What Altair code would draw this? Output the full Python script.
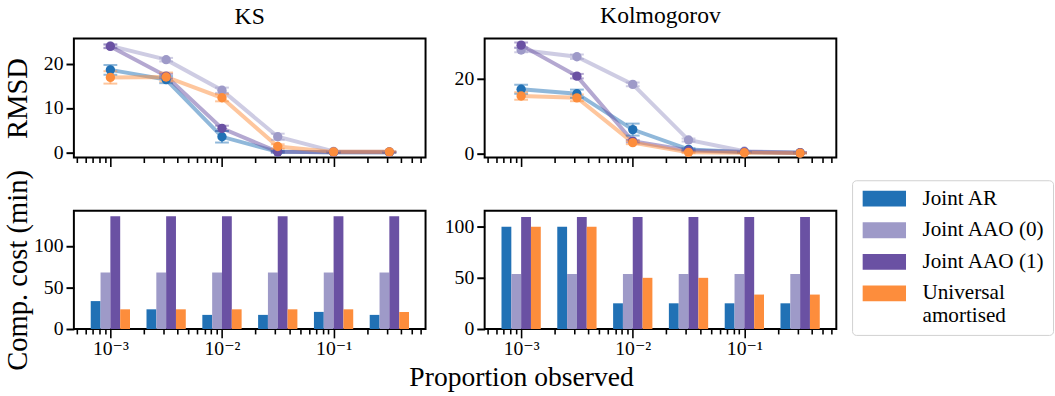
import altair as alt
import pandas as pd

# ---------------- data ----------------
methods = ["Joint AR", "Joint AAO (0)", "Joint AAO (1)", "Universal amortised"]
colors = ["#2171b5", "#9e9ac8", "#6a51a3", "#fd8d3c"]
proportions = [0.001, 0.00316, 0.01, 0.0316, 0.1, 0.316]

# RMSD (KS)
ks_ar = [18.6, 16.4, 3.5, 0.1, 0.0, 0.0]
ks_aao0 = [24.0, 20.9, 14.0, 3.5, 0.2, 0.1]
ks_aao1 = [23.9, 17.2, 5.4, 0.1, 0.0, 0.0]
ks_ua = [16.9, 17.0, 12.3, 1.3, 0.1, 0.1]
ks_ar_err = [1.1, 0.8, 1.3, 0.2, 0.1, 0.1]
ks_aao0_err = [0.4, 0.4, 0.6, 0.7, 0.1, 0.1]
ks_aao1_err = [0.4, 0.5, 0.6, 0.1, 0.1, 0.1]
ks_ua_err = [1.4, 1.0, 0.8, 0.5, 0.1, 0.1]

# RMSD (Kolmogorov)
kol_ar = [17.2, 16.0, 6.4, 1.1, 0.4, 0.2]
kol_aao0 = [27.7, 25.9, 18.5, 3.6, 0.6, 0.2]
kol_aao1 = [29.0, 20.7, 3.3, 0.8, 0.4, 0.2]
kol_ua = [15.4, 14.9, 2.9, 0.3, 0.2, 0.1]
kol_ar_err = [1.2, 1.1, 1.6, 0.3, 0.1, 0.1]
kol_aao0_err = [0.6, 0.6, 0.5, 0.4, 0.1, 0.1]
kol_aao1_err = [0.7, 0.6, 0.3, 0.2, 0.1, 0.1]
kol_ua_err = [1.0, 0.9, 0.4, 0.2, 0.1, 0.1]

# Computational cost (min)
ks_cost_ar = [33.6, 23.7, 17.0, 17.0, 20.6, 17.0]
ks_cost_aao0 = [68, 68, 68, 68, 68, 68]
ks_cost_aao1 = [135.6, 135.6, 135.6, 135.6, 135.6, 135.6]
ks_cost_ua = [23.7, 23.7, 23.7, 23.7, 23.7, 20.5]
kol_cost_ar = [99.5, 99.5, 25, 25, 25, 25]
kol_cost_aao0 = [53.5, 53.5, 53.5, 53.5, 53.5, 53.5]
kol_cost_aao1 = [109, 109, 109, 109, 109, 109]
kol_cost_ua = [99.5, 99.5, 49.8, 49.8, 33.5, 33.5]

# ---------------- tables ----------------
def rmsd_table(series, errs):
    rows = []
    for k, (m, vals, es) in enumerate(zip(methods, series, errs)):
        for p, v, e in zip(proportions, vals, es):
            rows.append({"method": m, "idx": k, "p": p, "rmsd": v,
                         "lo": v - e, "hi": v + e})
    return pd.DataFrame(rows)


def cost_table(series):
    rows = []
    for k, (m, vals) in enumerate(zip(methods, series)):
        for p, v in zip(proportions, vals):
            rows.append({"method": m, "idx": k, "p": p, "cost": v, "base": 0})
    return pd.DataFrame(rows)


ks_r = rmsd_table([ks_ar, ks_aao0, ks_aao1, ks_ua],
                  [ks_ar_err, ks_aao0_err, ks_aao1_err, ks_ua_err])
kol_r = rmsd_table([kol_ar, kol_aao0, kol_aao1, kol_ua],
                   [kol_ar_err, kol_aao0_err, kol_aao1_err, kol_ua_err])
ks_c = cost_table([ks_cost_ar, ks_cost_aao0, ks_cost_aao1, ks_cost_ua])
kol_c = cost_table([kol_cost_ar, kol_cost_aao0, kol_cost_aao1, kol_cost_ua])

# ---------------- styling ----------------
FONT = "Liberation Serif, Times New Roman, DejaVu Serif, serif"
W = 357
H_TOP = 121
H_BOT = 120
BAR_W = 0.088  # bar width in decades
X_DOMAIN = [10 ** -3.327, 10 ** -0.176]

tick_vals = [m * 10.0 ** e for e in range(-4, 0) for m in range(1, 10)]
tick_vals = [t for t in tick_vals if X_DOMAIN[0] <= t <= X_DOMAIN[1]]

L10 = "(log(datum.value)/LN10)"
MAJOR = f"abs({L10} - round({L10})) < 1e-6"
LABEL_EXPR = (f"abs({L10}+3)<1e-6 ? '10⁻³' : abs({L10}+2)<1e-6 ? '10⁻²' : "
              f"abs({L10}+1)<1e-6 ? '10⁻¹' : ''")

xscale = alt.Scale(type="log", domain=X_DOMAIN, nice=False)
cscale = alt.Scale(domain=methods, range=colors)
TICK_SIZE = {"condition": {"test": MAJOR, "value": 9}, "value": 5}


def x_axis(labels, title=None):
    kw = dict(values=tick_vals, grid=False, domain=False,
              tickSize=TICK_SIZE, tickWidth=1.6, tickColor="black")
    if labels:
        kw.update(labelExpr=LABEL_EXPR, labelFont=FONT, labelFontSize=20,
                  labelPadding=1, labelColor="black", labelFlush=False)
    else:
        kw.update(labels=False)
    if title:
        kw.update(title=title, titleFont=FONT, titleFontSize=28,
                  titleFontWeight="normal", titleColor="black",
                  titleX=454, titleY=57, titleBaseline="alphabetic",
                  titleAlign="center")
    else:
        kw.update(title=None)
    return alt.Axis(**kw)


def y_axis(title, values):
    kw = dict(values=values, grid=False, domain=False, tickSize=8, tickWidth=2,
              tickColor="black", labelFont=FONT, labelFontSize=20,
              labelColor="black", labelPadding=3)
    if title:
        kw.update(title=title, titleFont=FONT, titleFontSize=29,
                  titleFontWeight="normal", titleColor="black",
                  titleX=-48, titleBaseline="alphabetic")
    else:
        kw.update(title=None)
    return alt.Axis(**kw)


def rmsd_chart(df, name, ydom, yvals, ytitle):
    base = alt.Chart(df)
    x = alt.X("p:Q", scale=xscale, axis=x_axis(False))
    y = alt.Y("rmsd:Q", scale=alt.Scale(domain=ydom, nice=False, zero=False),
              axis=y_axis(ytitle, yvals))
    col = alt.Color("method:N", scale=cscale, legend=None)
    line = base.mark_line(strokeWidth=4, opacity=0.5).encode(
        x=x, y=y, color=col, order="p:Q")
    rule = base.mark_rule(strokeWidth=2, opacity=0.5).encode(
        x="p:Q", y="lo:Q", y2="hi:Q", color=col)
    cap_lo = base.mark_tick(orient="horizontal", size=14, thickness=2,
                            opacity=0.5).encode(x="p:Q", y="lo:Q", color=col)
    cap_hi = base.mark_tick(orient="horizontal", size=14, thickness=2,
                            opacity=0.5).encode(x="p:Q", y="hi:Q", color=col)
    pts = base.mark_circle(size=90, opacity=1).encode(x="p:Q", y="rmsd:Q",
                                                      color=col)
    return alt.layer(line, rule, cap_lo, cap_hi, pts).properties(
        width=W, height=H_TOP,
        title=alt.TitleParams(name, font=FONT, fontSize=24,
                              fontWeight="normal", color="black", offset=9))


def cost_chart(df, ydom, yvals, ytitle, legend, xtitle=None):
    if legend:
        leg = alt.Legend(orient="none", legendX=373, legendY=-31, title=None,
                         symbolType="M-2.75,-1H2.75V1H-2.75Z", symbolSize=256,
                         symbolOffset=14,
                         symbolStrokeWidth=0, symbolOpacity=1,
                         labelFont=FONT, labelFontSize=21.5, labelColor="black",
                         labelLimit=400, labelOffset=28, padding=8,
                         rowPadding=9, strokeColor="#d0d0d0",
                         fillColor="white", cornerRadius=4,
                         labelExpr="datum.label == 'Universal amortised' ? "
                                   "['Universal', 'amortised'] : datum.label")
    else:
        leg = None
    return alt.Chart(df).transform_calculate(
        x1=f"datum.p * pow(10, (datum.idx - 2) * {BAR_W})",
        x2=f"datum.p * pow(10, (datum.idx - 1) * {BAR_W})",
    ).mark_rect().encode(
        x=alt.X("x1:Q", scale=xscale, axis=x_axis(True, xtitle)),
        x2="x2:Q",
        y=alt.Y("cost:Q", scale=alt.Scale(domain=ydom, nice=False),
                axis=y_axis(ytitle, yvals)),
        y2="base:Q",
        color=alt.Color("method:N", scale=cscale, legend=leg),
    ).properties(width=W, height=H_BOT)


ks_top = rmsd_chart(ks_r, "KS", [-1.2, 25.7], [0, 10, 20], "RMSD")
kol_top = rmsd_chart(kol_r, "Kolmogorov", [-1.1, 30.8], [0, 20], None)
ks_bot = cost_chart(ks_c, [0, 142.3], [0, 50, 100], "Comp. cost (min)", False,
                    xtitle="Proportion observed")
kol_bot = cost_chart(kol_c, [0, 115], [0, 50, 100], None, True)

chart = alt.concat(ks_top, kol_top, ks_bot, kol_bot, columns=2,
                   bounds="flush", spacing={"row": 54, "column": 60}
                   ).resolve_legend(color="independent").properties(
    padding={"left": 3, "top": 0, "right": 0, "bottom": 0},
    background="white",
).configure(font=FONT).configure_view(stroke="black", strokeWidth=2
).configure_axis(labelFont=FONT, titleFont=FONT
).configure_title(font=FONT).configure_legend(labelFont=FONT)

chart.save("out.html", embed_options={"renderer": "svg", "actions": False})
